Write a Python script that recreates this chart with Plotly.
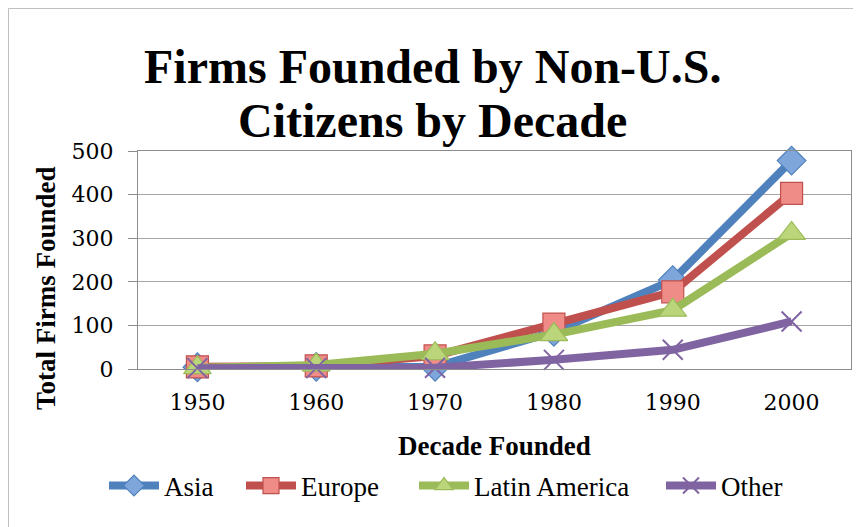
import plotly.graph_objects as go

decades = ["1950", "1960", "1970", "1980", "1990", "2000"]
asia = [4, 5, 5, 85, 204, 478]
europe = [5, 7, 30, 103, 177, 403]
latin_america = [3, 9, 35, 79, 135, 311]
other = [2, 2, 3, 21, 44, 109]
y_ticks = [0, 100, 200, 300, 400, 500]

series = [
    ("Asia", asia, "#4F81BD", "diamond", "#7EA6DA"),
    ("Europe", europe, "#C0504D", "square", "#F08C88"),
    ("Latin America", latin_america, "#9BBB59", "triangle-up", "#BBD67A"),
    ("Other", other, "#8064A2", "x-thin", "#8064A2"),
]
# legend entry left edges in page pixels
legend_left = [104, 241, 414, 661]

# page is offset by the 8px body margin; page coords -> paper coords
PL, PT, PW, PH = 138, 151, 713, 218


def px(x):
    return (x - PL) / PW


def py(y):
    return (PT + PH - y) / PH


serif = "Liberation Serif"
fig = go.Figure()
legends = {}
for i, (name, vals, col, sym, fill) in enumerate(series):
    if sym == "x-thin":
        marker = dict(symbol=sym, size=20, color=col, line=dict(color=col, width=2))
    else:
        marker = dict(symbol=sym, size=22 if sym != "triangle-up" else 24,
                      color=fill, line=dict(color=col, width=1.2))
    lname = "legend" if i == 0 else f"legend{i + 1}"
    fig.add_trace(go.Scatter(
        x=decades, y=vals, name=name, mode="lines+markers", cliponaxis=False,
        line=dict(color=col, width=8), marker=marker, legend=lname,
    ))
    legends[lname] = dict(
        orientation="h", x=px(legend_left[i]), xanchor="left", y=py(486), yanchor="middle",
        font=dict(family=serif, size=27, color="black"), itemwidth=50,
        bgcolor="rgba(0,0,0,0)",
    )

fig.update_layout(
    width=853, height=519,
    margin=dict(l=130, r=10, t=143, b=158),
    paper_bgcolor="white", plot_bgcolor="white",
    showlegend=True,
    xaxis=dict(
        type="category", showgrid=False, range=[-0.5, 5.5],
        showline=True, linecolor="#8C8C8C", linewidth=1, mirror=True,
        ticks="", ticklabelstandoff=14,
        tickfont=dict(family="DejaVu Serif", size=22, color="black"),
    ),
    yaxis=dict(
        range=[0, 500], tickvals=y_ticks,
        showgrid=True, gridcolor="#A6A6A6", gridwidth=1,
        showline=True, linecolor="#8C8C8C", linewidth=1, mirror=True,
        ticks="outside", ticklen=9, tickcolor="#8C8C8C", ticklabelstandoff=10,
        tickfont=dict(family="DejaVu Serif", size=22, color="black"),
        zeroline=False,
    ),
    shapes=[dict(type="rect", xref="paper", yref="paper",
                 x0=px(8.5), x1=1.05, y0=-0.9, y1=py(8.5),
                 line=dict(color="#BFBFBF", width=1), layer="below")],
    annotations=[
        dict(text="<b>Firms Founded by Non-U.S.</b>", xref="paper", yref="paper",
             x=px(432), y=py(66), xanchor="center", yanchor="middle",
             showarrow=False, font=dict(family=serif, size=48, color="black")),
        dict(text="<b>Citizens by Decade</b>", xref="paper", yref="paper",
             x=px(432), y=py(121), xanchor="center", yanchor="middle",
             showarrow=False, font=dict(family=serif, size=48, color="black")),
        dict(text="<b>Decade Founded</b>", xref="paper", yref="paper",
             x=0.5, y=py(446), xanchor="center", yanchor="middle",
             showarrow=False, font=dict(family=serif, size=27, color="black")),
        dict(text="<b>Total Firms Founded</b>", xref="paper", yref="paper",
             x=px(46), y=py(288), xanchor="center", yanchor="middle",
             textangle=-90, showarrow=False, font=dict(family=serif, size=27, color="black")),
    ],
    **legends,
)

fig.write_html("out.html")
